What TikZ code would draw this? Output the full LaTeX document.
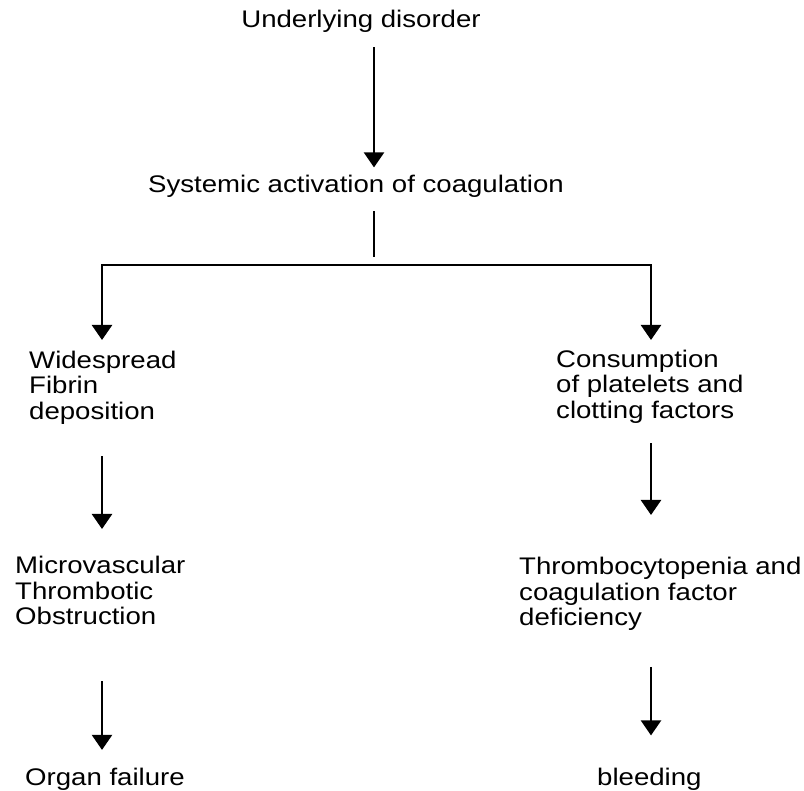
\documentclass[tikz,border=0pt]{standalone}
\usepackage{fontspec}
\setmainfont[FakeStretch=1.15]{Liberation Sans}
\usetikzlibrary{arrows.meta}
\begin{document}
\begin{tikzpicture}[x=1pt,y=-1pt,>={Triangle[width=20pt,length=15pt]},line width=2.4pt,
	txt/.style={inner sep=0pt,font=\fontsize{24}{25.5}\selectfont},
	blk/.style={txt,align=left,anchor=north west}]
	\useasboundingbox (0,0) rectangle (804,791);
	% texts
	\node[txt,anchor=base] (ud) at (361,28) {Underlying disorder};
	\node[txt,anchor=base] (sac) at (356,193) {Systemic activation of coagulation};
	\node[blk] (wfd) at (28,349.5) {Widespread\\Fibrin\\deposition};
	\node[blk] (cpc) at (555,348.5) {Consumption\\of platelets and\\clotting factors};
	\node[blk] (mto) at (14,555) {Microvascular\\Thrombotic\\Obstruction};
	\node[blk] (tcd) at (518,556) {Thrombocytopenia and\\coagulation factor\\deficiency};
	\node[txt,anchor=base west] (orf) at (24,785) {Organ failure};
	\node[txt,anchor=base west] (bld) at (596,785) {bleeding};
	% split
	\coordinate (mid) at (374,265);
	\coordinate (lft) at (102,265);
	\coordinate (rgt) at (651,265);
	\draw[->,shorten <=13pt,shorten >=7pt] (ud.south -| mid) -- (sac.north -| mid);
	\draw[shorten <=12pt,shorten >=8pt] (sac.south -| mid) -- (mid);
	\draw[->,shorten >=9.5pt] (mid) -| (wfd.north -| lft);
	\draw[->,shorten >=8.5pt] (mid) -| (cpc.north -| rgt);
	% left branch
	\draw[->,shorten <=31pt,shorten >=26pt] (wfd.south -| lft) -- (mto.north -| lft);
	\draw[->,shorten <=55pt,shorten >=16.5pt] (mto.south -| lft) -- (orf.north -| lft);
	% right branch
	\draw[->,shorten <=19pt,shorten >=41pt] (cpc.south -| rgt) -- (tcd.north -| rgt);
	\draw[->,shorten <=35pt,shorten >=31pt] (tcd.south -| rgt) -- (bld.north -| rgt);
\end{tikzpicture}
\end{document}
